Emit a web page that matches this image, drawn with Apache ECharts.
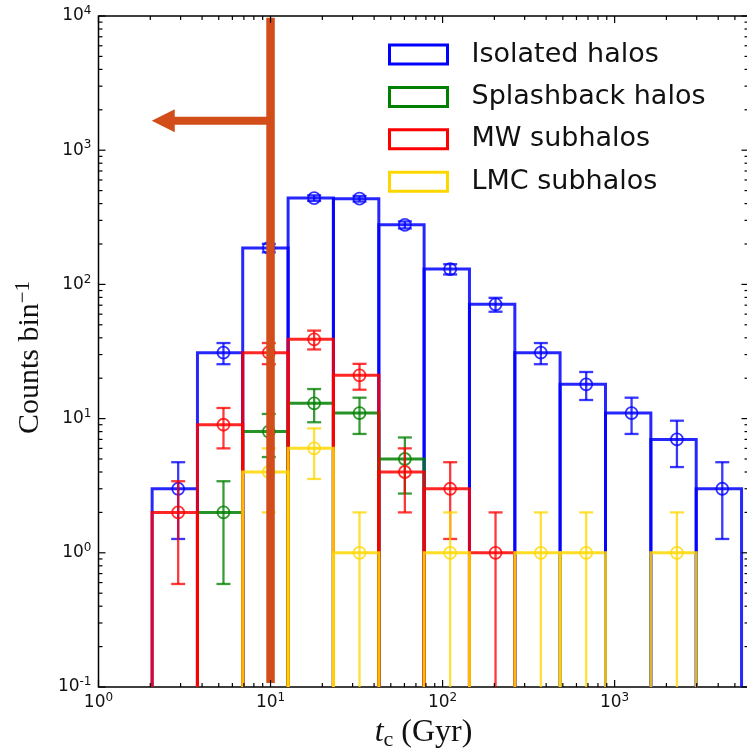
<!DOCTYPE html>
<html>
<head>
<meta charset="utf-8">
<script src="https://cdn.jsdelivr.net/npm/echarts@6/dist/echarts.min.js"></script>
<style>
  html, body { margin: 0; padding: 0; background: #fff; }
  #chart { width: 747px; height: 748px; }
</style>
</head>
<body>
<div id="chart"></div>
<script>
// Histogram of t_c (Gyr), logarithmic bins
const binEdges = [2.05, 3.76, 6.89, 12.65, 23.2, 42.6, 78.1, 143.3, 263, 482, 885, 1624, 2980, 5467];

const isolatedCounts   = [3, 31, 187, 440, 435, 278, 130, 71, 31, 18, 11, 7, 3];
const splashbackCounts = [0, 2, 8, 13, 11, 5, 0, 0, 0, 0, 0, 0, 0];
const mwCounts         = [2, 9, 31, 39, 21, 4, 3, 1, 0, 0, 0, 0, 0];
const lmcCounts        = [0, 0, 4, 6, 1, 0, 1, 0, 1, 1, 0, 1, 0];

const seriesNames = ['Isolated halos', 'Splashback halos', 'MW subhalos', 'LMC subhalos'];

// Axis ranges and decade tick labels
const xRange = [1, 6000];
const yRange = [0.1, 10000];
const xDecades = [0, 1, 2, 3];
const yDecades = [-1, 0, 1, 2, 3, 4];

// Annotation: cut at t_c = 10 Gyr with an arrow pointing to shorter times
const cutTime = 10;
const cutSpan = [0.107, 9700];
const arrowLevel = 1660;
const arrowTip = 2.04;

const colors = ['#0000ff', '#008000', '#ff0000', '#ffd700'];
const countSets = [isolatedCounts, splashbackCounts, mwCounts, lmcCounts];
const FLOOR = 0.02; // below the axis minimum; clipped away

function binData(counts) {
  return counts.map((c, i) => [binEdges[i], binEdges[i + 1], c]);
}

// Unfilled bar outline for each bin
function barRenderer(color) {
  return function (params, api) {
    const lo = api.value(0), hi = api.value(1), c = api.value(2);
    if (!(c > 0)) return null;
    const pts = [
      api.coord([lo, FLOOR]), api.coord([lo, c]),
      api.coord([hi, c]), api.coord([hi, FLOOR])
    ];
    return {
      type: 'polyline',
      shape: { points: pts },
      style: { fill: null, stroke: color, lineWidth: 3, lineJoin: 'miter', opacity: 0.85 }
    };
  };
}

function errorRenderer(color) {
  return function (params, api) {
    const lo = api.value(0), hi = api.value(1), c = api.value(2);
    if (!(c > 0)) return null;
    const mid = (lo + hi) / 2;
    const err = Math.sqrt(c); // Poisson uncertainty
    const top = api.coord([mid, c + err]);
    const lowVal = c - err;
    const bot = api.coord([mid, lowVal > 0 ? lowVal : FLOOR]);
    const ctr = api.coord([mid, c]);
    const capHalf = 7;
    const st = { stroke: color, lineWidth: 2.3, opacity: 0.78, fill: null };
    const children = [
      { type: 'line', shape: { x1: top[0], y1: top[1], x2: bot[0], y2: bot[1] }, style: st },
      { type: 'line', shape: { x1: top[0] - capHalf, y1: top[1], x2: top[0] + capHalf, y2: top[1] }, style: st },
      { type: 'circle', shape: { cx: ctr[0], cy: ctr[1], r: 6 }, style: { stroke: color, lineWidth: 1.8, fill: null, opacity: 0.8 } }
    ];
    if (lowVal > 0) {
      children.push({ type: 'line', shape: { x1: bot[0] - capHalf, y1: bot[1], x2: bot[0] + capHalf, y2: bot[1] }, style: st });
    }
    return { type: 'group', children: children };
  };
}

// Inward major/minor ticks on all four sides
function tickRenderer(params, api) {
  const children = [];
  const major = 7, minor = 4;
  const st = { stroke: '#000', lineWidth: 1.2 };
  function xTick(v, len) {
    const b = api.coord([v, yRange[0]]);
    const t = api.coord([v, yRange[1]]);
    children.push({ type: 'line', shape: { x1: b[0], y1: b[1], x2: b[0], y2: b[1] - len }, style: st });
    children.push({ type: 'line', shape: { x1: t[0], y1: t[1], x2: t[0], y2: t[1] + len }, style: st });
  }
  function yTick(v, len) {
    const l = api.coord([xRange[0], v]);
    const r = api.coord([xRange[1], v]);
    children.push({ type: 'line', shape: { x1: l[0], y1: l[1], x2: l[0] + len, y2: l[1] }, style: st });
    children.push({ type: 'line', shape: { x1: r[0], y1: r[1], x2: r[0] - len, y2: r[1] }, style: st });
  }
  xDecades.forEach(e => {
    const base = Math.pow(10, e);
    xTick(base, major);
    for (let m = 2; m <= 9; m++) {
      const v = m * base;
      if (v < xRange[1]) xTick(v, minor);
    }
  });
  yDecades.forEach(e => {
    const base = Math.pow(10, e);
    yTick(base, major);
    if (e < 4) for (let m = 2; m <= 9; m++) yTick(m * base, minor);
  });
  return { type: 'group', children: children };
}

function annotationRenderer(params, api) {
  const col = '#d24d1a';
  const vTop = api.coord([cutTime, cutSpan[1]]);
  const vBot = api.coord([cutTime, cutSpan[0]]);
  const start = api.coord([cutTime, arrowLevel]);
  const tip = api.coord([arrowTip, arrowLevel]);
  const headLen = 23, headHalf = 11.5;
  return {
    type: 'group',
    children: [
      { type: 'line', shape: { x1: vTop[0], y1: vTop[1], x2: vBot[0], y2: vBot[1] }, style: { stroke: col, lineWidth: 8.5 } },
      { type: 'line', shape: { x1: start[0], y1: start[1], x2: tip[0] + headLen - 1, y2: tip[1] }, style: { stroke: col, lineWidth: 8 } },
      { type: 'polygon', shape: { points: [[tip[0], tip[1]], [tip[0] + headLen, tip[1] - headHalf], [tip[0] + headLen, tip[1] + headHalf]] }, style: { fill: col } }
    ]
  };
}

function powLabel(v) {
  const lg = Math.log10(v);
  const e = Math.round(lg);
  if (Math.abs(lg - e) > 1e-6) return '';
  return '{b|10}{s|' + (e < 0 ? '-' + (-e) : String(e)) + '}';
}

const labelRich = {
  b: { fontFamily: 'DejaVu Sans', fontSize: 17, color: '#111', lineHeight: 22 },
  s: { fontFamily: 'DejaVu Sans', fontSize: 12, color: '#111', lineHeight: 12, verticalAlign: 'top' }
};

const series = [];
countSets.forEach((counts, k) => {
  series.push({
    name: seriesNames[k], type: 'custom', clip: true, silent: true,
    data: binData(counts), encode: { x: [0, 1], y: 2 },
    renderItem: barRenderer(colors[k]), z: 2 + k * 2
  });
  series.push({
    name: seriesNames[k], type: 'custom', clip: true, silent: true,
    data: binData(counts), encode: { x: [0, 1], y: 2 },
    renderItem: errorRenderer(colors[k]), z: 3 + k * 2
  });
});
series.push({ type: 'custom', silent: true, data: [[1, 1]], renderItem: annotationRenderer, z: 20 });
series.push({ type: 'custom', silent: true, data: [[1, 1]], renderItem: tickRenderer, z: 21 });

const chart = echarts.init(document.getElementById('chart'), null, { renderer: 'canvas' });
chart.setOption({
  backgroundColor: '#fff',
  animation: false,
  grid: {
    left: 98.5, top: 16, width: 650, height: 671, outerBoundsMode: 'none', containLabel: false,
    show: true, borderColor: '#000', borderWidth: 1.5, backgroundColor: 'transparent'
  },
  legend: {
    orient: 'vertical', left: 388, top: 41, padding: 0,
    itemWidth: 58, itemHeight: 19, itemGap: 15.4,
    selectedMode: false,
    textStyle: { fontFamily: 'DejaVu Sans', fontSize: 27, color: '#111', padding: [0, 0, 0, 19] },
    data: seriesNames.map((n, k) => ({
      name: n, icon: 'rect',
      itemStyle: { color: 'rgba(255,255,255,0)', borderColor: colors[k], borderWidth: 3 }
    }))
  },
  xAxis: {
    type: 'log', logBase: 10, min: xRange[0], max: xRange[1],
    axisLine: { show: false }, axisTick: { show: false }, splitLine: { show: false },
    axisLabel: { margin: 5, formatter: powLabel, rich: labelRich, showMaxLabel: false },
    name: '{t|t}{c|c}{n| (Gyr)}', nameLocation: 'middle', nameGap: 26,
    nameTextStyle: {
      rich: {
        t: { fontFamily: 'Liberation Serif', fontStyle: 'italic', fontSize: 32, color: '#111', lineHeight: 38 },
        c: { fontFamily: 'Liberation Serif', fontSize: 22, color: '#111', lineHeight: 22, verticalAlign: 'bottom' },
        n: { fontFamily: 'Liberation Serif', fontSize: 32, color: '#111', lineHeight: 38 }
      }
    }
  },
  yAxis: {
    type: 'log', logBase: 10, min: yRange[0], max: yRange[1],
    axisLine: { show: false }, axisTick: { show: false }, splitLine: { show: false },
    axisLabel: { margin: 7, formatter: powLabel, rich: labelRich },
    name: '{n|Counts bin}{s|\u22121}', nameLocation: 'middle', nameGap: 50, nameRotate: 90,
    nameTextStyle: {
      padding: [0, 12, 0, 0],
      rich: {
        n: { fontFamily: 'Liberation Serif', fontSize: 30, color: '#111', lineHeight: 36 },
        s: { fontFamily: 'Liberation Serif', fontSize: 21, color: '#111', lineHeight: 21, verticalAlign: 'top' }
      }
    }
  },
  series: series
});
</script>
</body>
</html>
